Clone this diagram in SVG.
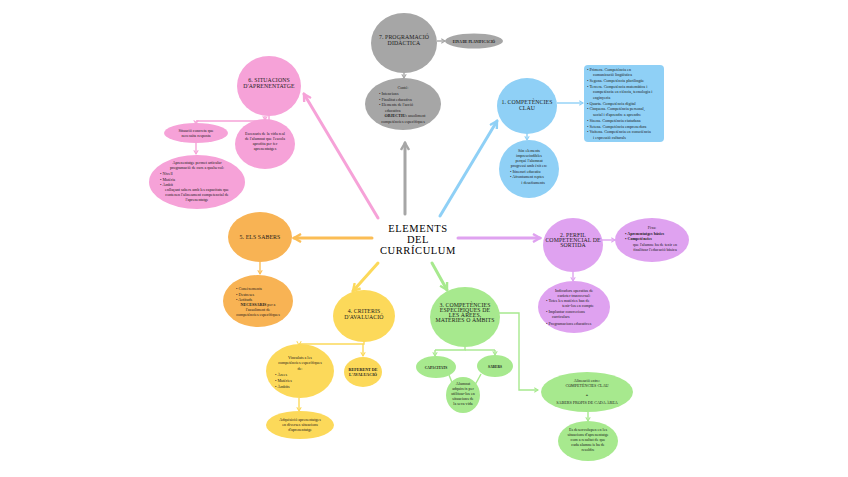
<svg xmlns="http://www.w3.org/2000/svg" width="848" height="477" viewBox="0 0 848 477">
<style>
text{font-family:"Liberation Serif","DejaVu Serif",serif;fill:#1a1a1a}
.h{font-size:5.8px;text-anchor:middle;letter-spacing:0.1px}
.t{font-size:10.5px;text-anchor:middle;letter-spacing:0.6px;fill:#000}
.s{font-size:4.1px;text-anchor:middle}
.l{font-size:4.1px}
.b{font-weight:bold}
.th{fill:none;stroke-width:3;stroke-linecap:round}
.tn{fill:none;stroke-width:1.4}
</style>
<defs>
<marker id="aG" viewBox="0 0 10 10" refX="8" refY="5" markerWidth="10" markerHeight="10" markerUnits="userSpaceOnUse" orient="auto"><path d="M1,1 L8,5 L1,9" fill="none" stroke="#a6a6a6" stroke-width="2.4"/></marker>
<marker id="aP" viewBox="0 0 10 10" refX="8" refY="5" markerWidth="10" markerHeight="10" markerUnits="userSpaceOnUse" orient="auto"><path d="M1,1 L8,5 L1,9" fill="none" stroke="#f6a2d8" stroke-width="2.4"/></marker>
<marker id="aB" viewBox="0 0 10 10" refX="8" refY="5" markerWidth="10" markerHeight="10" markerUnits="userSpaceOnUse" orient="auto"><path d="M1,1 L8,5 L1,9" fill="none" stroke="#8fd0f6" stroke-width="2.4"/></marker>
<marker id="aO" viewBox="0 0 10 10" refX="8" refY="5" markerWidth="10" markerHeight="10" markerUnits="userSpaceOnUse" orient="auto"><path d="M1,1 L8,5 L1,9" fill="none" stroke="#fbbd55" stroke-width="2.4"/></marker>
<marker id="aV" viewBox="0 0 10 10" refX="8" refY="5" markerWidth="10" markerHeight="10" markerUnits="userSpaceOnUse" orient="auto"><path d="M1,1 L8,5 L1,9" fill="none" stroke="#dfa2f0" stroke-width="2.4"/></marker>
<marker id="aY" viewBox="0 0 10 10" refX="8" refY="5" markerWidth="10" markerHeight="10" markerUnits="userSpaceOnUse" orient="auto"><path d="M1,1 L8,5 L1,9" fill="none" stroke="#fcd95a" stroke-width="2.4"/></marker>
<marker id="aN" viewBox="0 0 10 10" refX="8" refY="5" markerWidth="10" markerHeight="10" markerUnits="userSpaceOnUse" orient="auto"><path d="M1,1 L8,5 L1,9" fill="none" stroke="#a7e98e" stroke-width="2.4"/></marker>
<marker id="sG" viewBox="0 0 8 8" refX="6" refY="4" markerWidth="6" markerHeight="6" markerUnits="userSpaceOnUse" orient="auto"><path d="M1,1 L6,4 L1,7" fill="none" stroke="#a6a6a6" stroke-width="1.4"/></marker>
<marker id="sP" viewBox="0 0 8 8" refX="6" refY="4" markerWidth="6" markerHeight="6" markerUnits="userSpaceOnUse" orient="auto"><path d="M1,1 L6,4 L1,7" fill="none" stroke="#f6a2d8" stroke-width="1.4"/></marker>
<marker id="sB" viewBox="0 0 8 8" refX="6" refY="4" markerWidth="6" markerHeight="6" markerUnits="userSpaceOnUse" orient="auto"><path d="M1,1 L6,4 L1,7" fill="none" stroke="#8fd0f6" stroke-width="1.4"/></marker>
<marker id="sO" viewBox="0 0 8 8" refX="6" refY="4" markerWidth="6" markerHeight="6" markerUnits="userSpaceOnUse" orient="auto"><path d="M1,1 L6,4 L1,7" fill="none" stroke="#fbbd55" stroke-width="1.4"/></marker>
<marker id="sV" viewBox="0 0 8 8" refX="6" refY="4" markerWidth="6" markerHeight="6" markerUnits="userSpaceOnUse" orient="auto"><path d="M1,1 L6,4 L1,7" fill="none" stroke="#dfa2f0" stroke-width="1.4"/></marker>
<marker id="sY" viewBox="0 0 8 8" refX="6" refY="4" markerWidth="6" markerHeight="6" markerUnits="userSpaceOnUse" orient="auto"><path d="M1,1 L6,4 L1,7" fill="none" stroke="#fcd95a" stroke-width="1.4"/></marker>
<marker id="sN" viewBox="0 0 8 8" refX="6" refY="4" markerWidth="6" markerHeight="6" markerUnits="userSpaceOnUse" orient="auto"><path d="M1,1 L6,4 L1,7" fill="none" stroke="#a7e98e" stroke-width="1.4"/></marker>
</defs>
<rect width="848" height="477" fill="#ffffff"/>

<g id="connectors">
<line class="th" x1="405" y1="214" x2="405" y2="143" stroke="#a6a6a6" marker-end="url(#aG)"/>
<line class="th" x1="378" y1="218" x2="304" y2="94" stroke="#f6a2d8" marker-end="url(#aP)"/>
<line class="th" x1="440" y1="216" x2="497" y2="121" stroke="#8fd0f6" marker-end="url(#aB)"/>
<line class="th" x1="372" y1="238" x2="294" y2="238" stroke="#fbbd55" marker-end="url(#aO)"/>
<line class="th" x1="458" y1="238" x2="540" y2="238" stroke="#dfa2f0" marker-end="url(#aV)"/>
<line class="th" x1="378" y1="263" x2="353" y2="291" stroke="#fcd95a" marker-end="url(#aY)"/>
<line class="th" x1="432" y1="263" x2="447" y2="290" stroke="#a7e98e" marker-end="url(#aN)"/>
<line class="tn" x1="437" y1="41" x2="445" y2="41" stroke="#a6a6a6" marker-end="url(#sG)"/>
<line class="tn" x1="404" y1="73" x2="404" y2="78" stroke="#a6a6a6" marker-end="url(#sG)"/>
<path class="tn" d="M269,116 V121 H196" stroke="#f6a2d8"/>
<line class="tn" x1="196" y1="121" x2="196" y2="124" stroke="#f6a2d8" marker-end="url(#sP)"/>
<line class="tn" x1="265" y1="116" x2="265" y2="120" stroke="#f6a2d8" marker-end="url(#sP)"/>
<line class="tn" x1="196" y1="143" x2="196" y2="154" stroke="#f6a2d8" marker-end="url(#sP)"/>
<line class="tn" x1="557" y1="103" x2="583" y2="103" stroke="#8fd0f6" marker-end="url(#sB)"/>
<line class="tn" x1="527" y1="133" x2="527" y2="140" stroke="#8fd0f6" marker-end="url(#sB)"/>
<line class="tn" x1="260" y1="262" x2="260" y2="274" stroke="#fbbd55" marker-end="url(#sO)"/>
<line class="tn" x1="602" y1="240" x2="615" y2="240" stroke="#dfa2f0" marker-end="url(#sV)"/>
<line class="tn" x1="573" y1="271" x2="573" y2="281" stroke="#dfa2f0" marker-end="url(#sV)"/>
<path class="tn" d="M364,341 V344 H299" stroke="#fcd95a"/>
<line class="tn" x1="299" y1="344" x2="299" y2="345" stroke="#fcd95a" marker-end="url(#sY)"/>
<line class="tn" x1="363" y1="344" x2="363" y2="356" stroke="#fcd95a" marker-end="url(#sY)"/>
<line class="tn" x1="299" y1="398" x2="299" y2="411" stroke="#fcd95a" marker-end="url(#sY)"/>
<path class="tn" d="M465,347 V350 H435" stroke="#a7e98e"/>
<path class="tn" d="M465,350 H495" stroke="#a7e98e"/>
<line class="tn" x1="435" y1="350" x2="435" y2="356" stroke="#a7e98e" marker-end="url(#sN)"/>
<line class="tn" x1="495" y1="350" x2="495" y2="355" stroke="#a7e98e" marker-end="url(#sN)"/>
<line class="tn" x1="449" y1="375" x2="453" y2="385" stroke="#a7e98e"/>
<line class="tn" x1="481" y1="374" x2="475" y2="385" stroke="#a7e98e"/>
<path class="tn" d="M499,313 H519 V390 H538" stroke="#a7e98e" marker-end="url(#sN)"/>
<line class="tn" x1="588" y1="412" x2="588" y2="421" stroke="#a7e98e" marker-end="url(#sN)"/>
</g>

<g id="center">
<text class="t" x="418" y="232">ELEMENTS</text>
<text class="t" x="418" y="243">DEL</text>
<text class="t" x="418" y="254">CURRÍCULUM</text>
</g>

<g id="n7">
<ellipse cx="404" cy="43" rx="33" ry="30" fill="#a6a6a6"/>
<text class="h" x="404" y="39">7. PROGRAMACIÓ</text>
<text class="h" x="404" y="45">DIDÀCTICA</text>
</g>
<g id="n7a">
<ellipse cx="474" cy="41" rx="29" ry="7.5" fill="#a6a6a6"/>
<text class="s b" x="474" y="42.5" style="font-size:3.6px">EINA DE PLANIFICACIÓ</text>
</g>
<g id="n7b">
<ellipse cx="403" cy="104" rx="38" ry="26" fill="#a6a6a6"/>
<text class="s" x="403" y="89">Conté:</text>
<text class="l" x="379" y="95">•  Intencions</text>
<text class="l" x="379" y="100.5">•  Finalitat educativa</text>
<text class="l" x="379" y="106">•  Elements de l'acció</text>
<text class="l" x="385" y="111.5">educativa</text>
<text class="s" x="405" y="117"><tspan class="b">OBJECTIU:</tspan> assoliment</text>
<text class="s" x="403" y="122.5">competències específiques</text>
</g>

<g id="n6">
<ellipse cx="269" cy="86" rx="32" ry="30" fill="#f6a2d8"/>
<text class="h" x="269" y="82">6. SITUACIONS</text>
<text class="h" x="269" y="88">D'APRENENTATGE</text>
</g>
<g id="n6a">
<ellipse cx="196" cy="133" rx="32" ry="10" fill="#f6a2d8"/>
<text class="s" x="196" y="131.5">Situació concreta que</text>
<text class="s" x="196" y="136.5">necessita resposta</text>
</g>
<g id="n6b">
<ellipse cx="265" cy="144" rx="30" ry="25" fill="#f6a2d8"/>
<text class="s" x="265" y="135">Escenaris de la vida real</text>
<text class="s" x="265" y="140">de l'alumnat que l'escola</text>
<text class="s" x="265" y="145">aprofita per fer</text>
<text class="s" x="265" y="150">aprenentatges</text>
</g>
<g id="n6c">
<ellipse cx="197" cy="182" rx="48" ry="27" fill="#f6a2d8"/>
<text class="s" x="197" y="164">Aprenentatge permet articular</text>
<text class="s" x="197" y="169">programació de curs a qualsevol:</text>
<text class="l" x="160" y="175">•  Nivell</text>
<text class="l" x="160" y="180.5">•  Matèria</text>
<text class="l" x="160" y="186">•  Àmbit</text>
<text class="s" x="197" y="191">enllaçant  sabers amb les capacitats que</text>
<text class="s" x="197" y="196">contenen  l'alineament competencial de</text>
<text class="s" x="197" y="201">l'aprenentatge</text>
</g>

<g id="n1">
<ellipse cx="527" cy="106" rx="30" ry="28" fill="#8fd0f6"/>
<text class="h" x="527" y="104">1. COMPETÈNCIES</text>
<text class="h" x="527" y="110">CLAU</text>
</g>
<g id="n1a">
<rect x="584" y="65" width="80" height="77" rx="4" fill="#8fd0f6"/>
<text class="l" x="587" y="70.5">•  Primera. Competència en</text>
<text class="l" x="593" y="76.2">comunicació lingüística</text>
<text class="l" x="587" y="81.9">•  Segona. Competència plurilingüe</text>
<text class="l" x="587" y="87.6">•  Tercera. Competència matemàtica i</text>
<text class="l" x="593" y="93.3">competència en ciència, tecnologia i</text>
<text class="l" x="593" y="99">enginyeria</text>
<text class="l" x="587" y="104.7">•  Quarta. Competència digital</text>
<text class="l" x="587" y="110.4">•  Cinquena. Competència personal,</text>
<text class="l" x="593" y="116.1">social i d'aprendre a aprendre</text>
<text class="l" x="587" y="121.8">•  Sisena. Competència ciutadana</text>
<text class="l" x="587" y="127.5">•  Setena. Competència emprenedora</text>
<text class="l" x="587" y="133.2">•  Vuitena. Competència en consciència</text>
<text class="l" x="593" y="138.9">i expressió culturals</text>
</g>
<g id="n1b">
<ellipse cx="529" cy="169" rx="30" ry="29" fill="#8fd0f6"/>
<text class="s" x="529" y="152">Són elements</text>
<text class="s" x="529" y="157">imprescindibles</text>
<text class="s" x="529" y="162">perquè l'alumnat</text>
<text class="s" x="529" y="167">progressi amb èxit en:</text>
<text class="l" x="510" y="172.5">•   Itinerari educatiu</text>
<text class="l" x="510" y="178">•   Afrontament reptes</text>
<text class="s" x="533" y="183.5">i desafiaments</text>
</g>

<g id="n5">
<ellipse cx="260" cy="237" rx="32" ry="25" fill="#f8b354"/>
<text class="h" x="260" y="239">5. ELS SABERS</text>
</g>
<g id="n5a">
<ellipse cx="258" cy="301" rx="35" ry="26" fill="#f8b354"/>
<text class="l" x="236" y="290">•  Coneixements</text>
<text class="l" x="236" y="295.5">•  Destreses</text>
<text class="l" x="236" y="301">•  Actituds</text>
<text class="s" x="258" y="306"><tspan class="b">NECESSARIS</tspan> per a</text>
<text class="s" x="258" y="311">l'assoliment de</text>
<text class="s" x="258" y="316">competències específiques</text>
</g>

<g id="n2">
<ellipse cx="573" cy="245" rx="30" ry="27" fill="#dfa2f0"/>
<text class="h" x="573" y="237">2. PERFIL</text>
<text class="h" x="573" y="242">COMPETENCIAL DE</text>
<text class="h" x="573" y="247">SORTIDA</text>
</g>
<g id="n2a">
<ellipse cx="652" cy="240" rx="37" ry="22" fill="#dfa2f0"/>
<text class="s" x="652" y="228.5">Fixa:</text>
<text class="l b" x="625" y="234.5">•  Aprenentatges bàsics</text>
<text class="l b" x="625" y="240">•  Competències</text>
<text class="s" x="655" y="245.5">que l'alumne ha de tenir en</text>
<text class="s" x="655" y="250.5">finalitzar l'educació bàsica</text>
</g>
<g id="n2b">
<ellipse cx="574" cy="307" rx="36" ry="26" fill="#dfa2f0"/>
<text class="s" x="574" y="291.5">Indicadors  operatius de</text>
<text class="s" x="574" y="296.5">caràcter transversal:</text>
<text class="l" x="546" y="302">•  Totes les matèries han de</text>
<text class="s" x="578" y="307">tenir-los en compte</text>
<text class="l" x="546" y="313">•  Implantar concrecions</text>
<text class="l" x="552" y="318">curriculars</text>
<text class="l" x="546" y="324.5">•  Programacions educatives</text>
</g>

<g id="n4">
<ellipse cx="364" cy="316" rx="31" ry="26" fill="#fcd95a"/>
<text class="h" x="364" y="313">4. CRITERIS</text>
<text class="h" x="364" y="318.5">D'AVALUACIÓ</text>
</g>
<g id="n4a">
<ellipse cx="300" cy="371" rx="34" ry="27" fill="#fcd95a"/>
<text class="s" x="300" y="358.5">Vinculats a les</text>
<text class="s" x="300" y="364">competències específiques</text>
<text class="s" x="300" y="369.5">de:</text>
<text class="l" x="275" y="376">•  Àrees</text>
<text class="l" x="275" y="382">•  Matèries</text>
<text class="l" x="275" y="388">•  Àmbits</text>
</g>
<g id="n4b">
<ellipse cx="363" cy="372" rx="19" ry="15" fill="#fcd95a"/>
<text class="s b" x="363" y="370.5">REFERENT DE</text>
<text class="s b" x="363" y="375.5">L'AVALUACIÓ</text>
</g>
<g id="n4c">
<ellipse cx="300" cy="425" rx="34" ry="14" fill="#fcd95a"/>
<text class="s" x="300" y="420.5">Adquisició aprenentatges</text>
<text class="s" x="300" y="425.5">en diverses situacions</text>
<text class="s" x="300" y="431">d'aprenentatge</text>
</g>

<g id="n3">
<ellipse cx="465" cy="317" rx="35" ry="30" fill="#a7e98e"/>
<text class="h" x="465" y="307">3. COMPETÈNCIES</text>
<text class="h" x="465" y="312">ESPECÍFIQUES DE</text>
<text class="h" x="465" y="317">LES ÀREES,</text>
<text class="h" x="465" y="322">MATÈRIES O ÀMBITS</text>
</g>
<g id="n3a">
<ellipse cx="436" cy="367" rx="20" ry="11" fill="#a7e98e"/>
<text class="s b" x="436" y="368.5" style="font-size:3.6px">CAPACITATS</text>
</g>
<g id="n3b">
<ellipse cx="495" cy="366" rx="18" ry="11" fill="#a7e98e"/>
<text class="s b" x="495" y="367.5" style="font-size:3.6px">SABERS</text>
</g>
<g id="n3c">
<ellipse cx="463" cy="395" rx="17" ry="18" fill="#a7e98e"/>
<text class="s" x="463" y="385">Alumnat</text>
<text class="s" x="463" y="390">adquireix per</text>
<text class="s" x="463" y="395">utilitzar-los en</text>
<text class="s" x="463" y="400">situacions de</text>
<text class="s" x="463" y="405">la seva vida</text>
</g>
<g id="n3d">
<ellipse cx="587" cy="392" rx="46" ry="20" fill="#a7e98e"/>
<text class="s" x="587" y="381.5">Alineació entre:</text>
<text class="s" x="587" y="386.5">COMPETÈNCIES CLAU</text>
<text class="s b" x="587" y="396">+</text>
<text class="s" x="587" y="404">SABERS PROPIS DE CADA ÀREA</text>
</g>
<g id="n3e">
<ellipse cx="588" cy="441" rx="30" ry="20" fill="#a7e98e"/>
<text class="s" x="588" y="430.5">Es desenvolupen en les</text>
<text class="s" x="588" y="435.5">situacions d'aprenentatge</text>
<text class="s" x="588" y="440.5">com a resultat de que</text>
<text class="s" x="588" y="445.5">cada alumne/a ha de</text>
<text class="s" x="588" y="450.5">resoldre</text>
</g>
</svg>
